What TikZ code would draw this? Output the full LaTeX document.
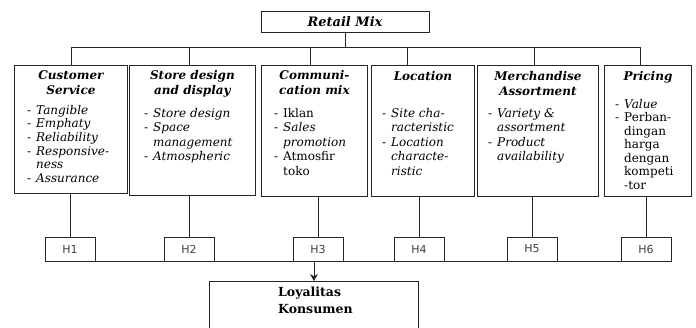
\documentclass[tikz,border=0pt]{standalone}
\usepackage{fontspec}
\setmainfont{DejaVu Serif}
\newfontfamily\hfont{DejaVu Sans}
\usetikzlibrary{arrows.meta}
\tikzstyle{arrow} = [line width=0.9pt,-{Stealth[length=7pt,width=8pt]}]
\tikzstyle{line} = [line width=0.9pt,black!85]
\tikzstyle{box} = [draw=black!85,line width=0.9pt,inner sep=0pt,anchor=north west]
\tikzstyle{head} = [anchor=north,align=center,inner sep=0pt,
	font=\fontsize{12}{15}\selectfont\bfseries\itshape]
\tikzstyle{items} = [anchor=north west,align=left,inner sep=0pt,
	font=\fontsize{12}{14.5}\selectfont\itshape]
\tikzstyle{hbox} = [draw=black!85,line width=0.9pt,minimum width=50pt,minimum height=24pt,
	text=black!75,font=\hfont\fontsize{11}{12}\selectfont]
\newcommand{\dsh}{\makebox[9pt][l]{\upshape -}}
\newcommand{\cnt}{\hspace*{9pt}}

\begin{document}
\begin{tikzpicture}[x=1pt,y=-1pt]
	\useasboundingbox (0,0) rectangle (696,327);
	\clip (0,0) rectangle (696,327);
	% top
	\node[draw=black!85,line width=0.9pt,minimum width=168pt,minimum height=21pt,
		font=\fontsize{13}{15}\selectfont\bfseries\itshape] (rm) at (345,21.5) {Retail Mix};
	\coordinate (bus) at (0,47);
	% the six boxes
	\node[box,minimum width=113pt,minimum height=128pt] (cs) at (14,65) {};
	\node[box,minimum width=126pt,minimum height=130pt] (sd) at (129,65) {};
	\node[box,minimum width=106pt,minimum height=131pt] (cm) at (261,65) {};
	\node[box,minimum width=103pt,minimum height=131pt] (lo) at (371,65) {};
	\node[box,minimum width=121pt,minimum height=131pt] (ma) at (477,65) {};
	\node[box,minimum width=87pt,minimum height=131pt] (pr) at (604,65) {};
	
	\node[head] at ([yshift=-5pt]cs.north) {Customer\\Service};
	\node[head] at ([yshift=-5pt]sd.north) {Store design\\and display};
	\node[head] at ([yshift=-5pt]cm.north) {Communi-\\cation mix};
	\node[head] at ([yshift=-6pt]lo.north) {Location};
	\node[head] at ([yshift=-6pt]ma.north) {Merchandise\\Assortment};
	\node[head] at ([yshift=-6pt]pr.north) {Pricing};
	
	\node[items,font=\fontsize{12}{13.6}\selectfont\itshape] at ([xshift=13pt,yshift=-40pt]cs.north west)
		{\dsh Tangible\\ \dsh Emphaty\\ \dsh Reliability\\ \dsh Responsive-\\ \cnt ness\\ \dsh Assurance};
	\node[items] at ([xshift=15pt,yshift=-43pt]sd.north west)
		{\dsh Store design\\ \dsh Space\\ \cnt management\\ \dsh Atmospheric};
	\node[items] at ([xshift=13pt,yshift=-43pt]cm.north west)
		{\dsh\upshape Iklan\\ \dsh Sales\\ \cnt promotion\\ \dsh\upshape Atmosfir\\ \cnt\upshape toko};
	\node[items] at ([xshift=11pt,yshift=-43pt]lo.north west)
		{\dsh Site cha-\\ \cnt racteristic\\ \dsh Location\\ \cnt characte-\\ \cnt ristic};
	\node[items] at ([xshift=11pt,yshift=-43pt]ma.north west)
		{\dsh Variety \&\\ \cnt assortment\\ \dsh Product\\ \cnt availability};
	\node[items,font=\fontsize{12}{13.5}\selectfont\itshape] at ([xshift=11pt,yshift=-34pt]pr.north west)
		{\dsh Value\\ \dsh\upshape Perban-\\ \cnt\upshape dingan\\ \cnt\upshape harga\\
		 \cnt\upshape dengan\\ \cnt\upshape kompeti\\ \cnt\upshape -tor};
	
	% hypotheses
	\node[hbox] (h1) at (70,249) {H1};
	\node[hbox] (h2) at (189,249) {H2};
	\node[hbox] (h3) at (318,249) {H3};
	\node[hbox] (h4) at (419,249) {H4};
	\node[hbox] (h5) at (532,249) {H5};
	\node[hbox] (h6) at (646,249) {H6};
	
	\node[box,minimum width=209pt,minimum height=60pt] (loy) at (209,281) {};
	\node[anchor=north west,align=left,inner sep=0pt,
		font=\fontsize{12.5}{17}\selectfont\bfseries] at ([xshift=69pt,yshift=-6pt]loy.north west)
		{Loyalitas\\Konsumen};
	
	% connectors
	\draw[line] (rm.south) -- (rm.south |- bus);
	\draw[line] (cs.north |- bus) -- ([xshift=-7.5pt]pr.north |- bus);
	\draw[line] (cs.north |- bus) -- (cs.north);
	\draw[line] ([xshift=-3pt]sd.north |- bus) -- ([xshift=-3pt]sd.north);
	\draw[line] ([xshift=-4pt]cm.north |- bus) -- ([xshift=-4pt]cm.north);
	\draw[line] ([xshift=-15.5pt]lo.north |- bus) -- ([xshift=-15.5pt]lo.north);
	\draw[line] ([xshift=-3.5pt]ma.north |- bus) -- ([xshift=-3.5pt]ma.north);
	\draw[line] ([xshift=-7.5pt]pr.north |- bus) -- ([xshift=-7.5pt]pr.north);
	
	\draw[line] (h1.north |- cs.south) -- (h1.north);
	\draw[line] (h2.north |- sd.south) -- (h2.north);
	\draw[line] (h3.north |- cm.south) -- (h3.north);
	\draw[line] (h4.north |- lo.south) -- (h4.north);
	\draw[line] (h5.north |- ma.south) -- (h5.north);
	\draw[line] (h6.north |- pr.south) -- (h6.north);
	
	\draw[line] (h1.south west) -- (h6.south east);
	\draw[arrow,black!85] (loy.north |- h1.south) -- (loy.north);
\end{tikzpicture}
\end{document}
